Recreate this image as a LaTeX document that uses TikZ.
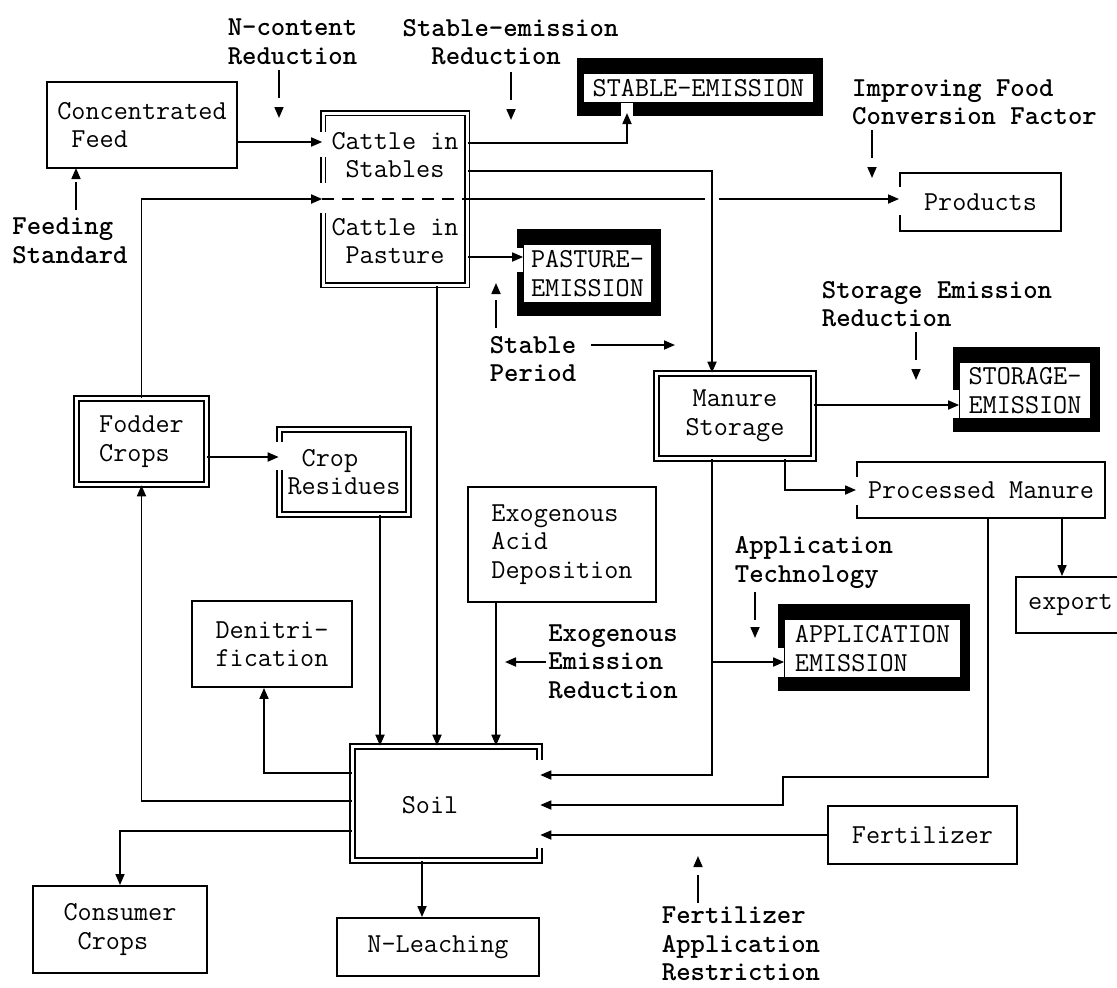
\documentclass[tikz,border=0pt]{standalone}
\usetikzlibrary{arrows.meta,calc,backgrounds}
\begin{document}
\begin{tikzpicture}[x=1pt,y=-1pt,>={Triangle[length=11pt,width=9pt]},line width=1.7pt]
\tikzstyle{box}=[draw,line width=1.9pt,inner sep=0pt,align=left,font=\ttfamily\fontsize{27.4}{28.5}\selectfont]
\tikzstyle{dbox}=[box,double,double distance=3pt,line width=1.6pt]
\tikzstyle{txt}=[inner sep=0pt,align=center,font=\ttfamily\fontsize{27.4}{28.5}\selectfont]
\tikzstyle{emis}=[fill=white,inner sep=0pt,align=left,font=\ttfamily\fontsize{27.4}{28.5}\selectfont]
\tikzstyle{lbl}=[inner sep=1pt,align=left,font=\ttfamily\bfseries\fontsize{27.4}{28.5}\selectfont]
\tikzstyle{ctrl}=[->,dash pattern=on 28pt off 40pt]
\tikzstyle{notch}=[fill=white]

\useasboundingbox (0,0) rectangle (1117,988);

% boxes
\node [box,minimum width=190pt,minimum height=86pt] (feed) at (142,125) {Concentrated\\~Feed};
\node [dbox,minimum width=144pt,minimum height=172pt] (cattle) at (395,199) {};
\node [txt] (stab) at (395,155) {Cattle in\\Stables};
\node [txt] (past) at (395,241) {Cattle in\\Pasture};
\node [emis,minimum width=229pt,minimum height=28pt] (sem) at (698.5,88) {STABLE-EMISSION};
\node [box,minimum width=161pt,minimum height=58pt] (prod) at (980.5,202) {Products};
\node [emis,minimum width=127pt,minimum height=57pt] (pem) at (587.5,273.5) {PASTURE-\\EMISSION};
\node [dbox,align=center,minimum width=157pt,minimum height=85pt] (manure) at (735,416) {Manure\\Storage};
\node [emis,minimum width=130pt,minimum height=55pt] (storem) at (1025,390.5) {STORAGE-\\EMISSION};
\node [box,minimum width=248pt,minimum height=56pt] (proc) at (981,490) {Processed Manure};
\node [box,minimum width=109pt,minimum height=56pt] (export) at (1070.5,605) {export};
\node [box,minimum width=188pt,minimum height=115pt] (dep) at (562,544.5) {Exogenous\\Acid\\Deposition};
\node [emis,minimum width=175pt,minimum height=57pt] (aem) at (872.5,648.5) {APPLICATION\\EMISSION};
\node [dbox,minimum width=130pt,minimum height=86pt] (fodder) at (141.5,441.5) {Fodder\\Crops};
\node [dbox,minimum width=129pt,minimum height=85pt] (resid) at (344,472) {~Crop\\Residues};
\node [box,minimum width=160pt,minimum height=86pt] (den) at (272,644) {Denitri-\\fication};
\node [dbox,minimum width=187pt,minimum height=114pt] (soil) at (446,803.5) {};
\node [txt] (soiltxt) at (430,805) {Soil};
\node [box,minimum width=189pt,minimum height=58pt] (fert) at (922.5,835) {Fertilizer};
\node [box,minimum width=174pt,minimum height=87pt] (cons) at (120,929.5) {Consumer\\~Crops};
\node [box,minimum width=202pt,minimum height=58pt] (leach) at (438,947) {N-Leaching};

% control labels
\node [lbl] (ncr) at (292.5,42) {N-content\\Reduction};
\node [lbl] (ser) at (510.5,42) {Stable-emission\\~~Reduction};
\node [lbl] (fst) at (70,241) {Feeding\\Standard};
\node [lbl] (ifc) at (974.5,102.5) {Improving Food\\Conversion Factor};
\node [lbl] (spd) at (533,359) {Stable\\Period};
\node [lbl] (sre) at (937,304) {Storage Emission\\Reduction};
\node [lbl] (apt) at (814,562.5) {Application\\Technology};
\node [lbl] (eer) at (613,661.5) {Exogenous\\Emission\\Reduction};
\node [lbl] (far) at (741,944) {Fertilizer\\Application\\Restriction};

\coordinate (ncrt) at (279,118);
\coordinate (sert) at (511,120);
\coordinate (fstt) at (76,168);
\coordinate (ifct) at (872,178);
\coordinate (spdt) at (496,283);
\coordinate (sret) at (916,380);
\coordinate (aptt) at (755,638);
\coordinate (fart) at (698,856);
\coordinate (spdr) at (675,345);
\coordinate (eert) at (505,662);
\coordinate (semin) at (627,113);
\coordinate (mj) at (712,171);
\coordinate (aj) at (712,662);
\coordinate (pj) at (783,777);

% black emission frames
\begin{scope}[on background layer]
\foreach \n in {sem,pem,storem,aem}
  \fill ($(\n.north west)+(-6,-15)$) rectangle ($(\n.south east)+(9,13)$);
\end{scope}

% openings where flows enter
\fill[notch] ($(sem.south -| semin)+(-6,0)$) rectangle ($(sem.south -| semin)+(6,14)$);
\fill[notch] ($(pem.west |- 0,257)+(-8,-9)$) rectangle ($(pem.west |- 0,257)+(0,15)$);
\fill[notch] ($(storem.west |- 0,405)+(-10,-15)$) rectangle ($(storem.west |- 0,405)+(0,13)$);
\fill[notch] ($(aem.west |- aj)+(-8,-14)$) rectangle ($(aem.west |- aj)+(0,15)$);
\fill[notch] ($(cattle.west |- 0,142)+(-5,-10)$) rectangle ($(cattle.west |- 0,142)+(5,15)$);
\fill[notch] ($(cattle.west |- 0,199)+(-5,-16)$) rectangle ($(cattle.west |- 0,199)+(5,14)$);
\fill[notch] ($(prod.west |- 0,199)+(-2,-12)$) rectangle ($(prod.west |- 0,199)+(2,16)$);
\fill[notch] ($(proc.west)+(-2,-13)$) rectangle ($(proc.west)+(2,15)$);
\fill[notch] ($(resid.west |- 0,457)+(-5,-15)$) rectangle ($(resid.west |- 0,457)+(5,13)$);
\fill[notch] ($(soil.east |- 0,760)+(-5,0)$) rectangle ($(soil.east |- 0,848)+(5,0)$);

% flows
\draw[->] (feed.east |- 0,142) -- (cattle.west |- 0,142);
\draw[->] (fodder.north) |- (cattle.west |- 0,199);
\draw[dash pattern=on 12pt off 8pt] (cattle.west |- 0,199) -- (cattle.east |- 0,199);
\draw (cattle.east |- 0,199) -- ([xshift=-7pt]mj |- 0,199);
\draw[->] ([xshift=7pt]mj |- 0,199) -- (prod.west |- 0,199);
\draw[->] (cattle.east |- 0,143) -| (semin);
\draw[->] (cattle.east |- mj) -- (mj) -- (manure.north -| mj);
\draw[->] (cattle.east |- 0,257) -- (pem.west |- 0,257);
\draw[->] (cattle.south -| 437,0) -- (soil.north -| 437,0);
\draw[->] (fodder.east |- 0,457) -- (resid.west |- 0,457);
\draw[->] (resid.south -| 380,0) -- (soil.north -| 380,0);
\draw[->] (dep.south -| 496,0) -- (soil.north -| 496,0);
\draw[->] (soil.west |- 0,773) -| ([xshift=-8pt]den.south);
\draw[->] (soil.west |- 0,801) -| (fodder.south);
\draw[->] (soil.west |- 0,831) -| (cons.north);
\draw[->] (soil.south -| 422,0) -- (leach.north -| 422,0);
\draw[->] (manure.east |- 0,405) -- (storem.west |- 0,405);
\draw[->] (manure.south -| 785,0) |- (proc.west);
\draw[->] (manure.south -| 712,0) |- (soil.east |- 0,775);
\draw[->] (aj) -- (aem.west |- aj);
\draw[->] (proc.south -| 1062,0) -- (export.north -| 1062,0);
\draw[->] (proc.south -| 988,0) |- (pj) |- (soil.east |- 0,805);
\draw[->] (fert.west) -- (soil.east |- fert.west);

% control measures
\draw[ctrl] ($(ncrt)+(0,-48)$) -- (ncrt);
\draw[ctrl] ($(sert)+(0,-48)$) -- (sert);
\draw[ctrl] ($(fstt)+(0,42)$) -- (fstt);
\draw[ctrl] ($(ifct)+(0,-48)$) -- (ifct);
\draw[ctrl] ($(spdt)+(0,45)$) -- (spdt);
\draw[ctrl] ($(sret)+(0,-48)$) -- (sret);
\draw[ctrl] ($(aptt)+(0,-46)$) -- (aptt);
\draw[ctrl] ($(fart)+(0,47)$) -- (fart);
\draw[->] ([xshift=13pt]spd.east |- spdr) -- (spdr);
\draw[->] (eer.west |- eert) -- (eert);
\end{tikzpicture}
\end{document}
